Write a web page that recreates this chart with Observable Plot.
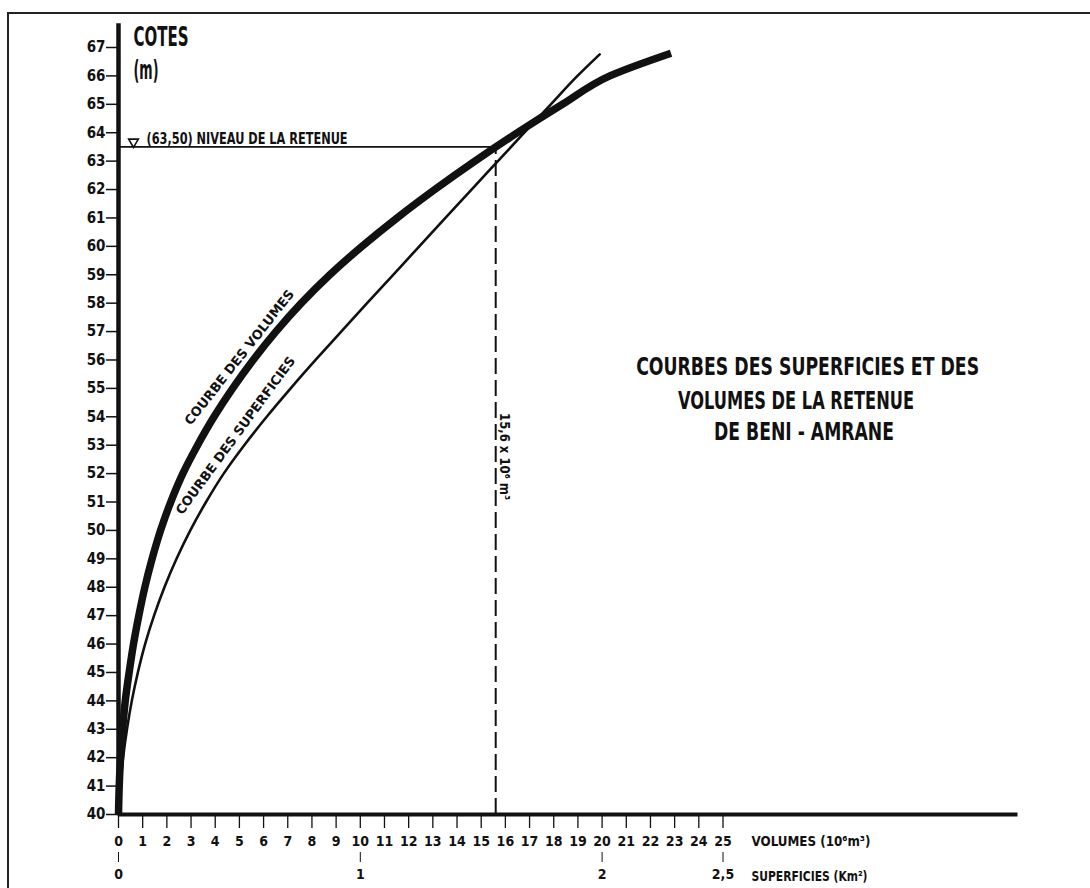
<!DOCTYPE html>
<html>
<head>
<meta charset="utf-8">
<script src="https://cdn.jsdelivr.net/npm/d3@7"></script>
<script src="https://cdn.jsdelivr.net/npm/@observablehq/plot@0.6"></script>
<style>
  html, body { margin: 0; padding: 0; background: #ffffff; }
  #wrap { position: relative; width: 1090px; height: 888px; overflow: hidden; }
  #border { position: absolute; left: 7px; top: 12px; right: -10px; bottom: -10px;
            border-top: 2px solid #222; border-left: 2px solid #222; }
  #chart { position: absolute; left: 0; top: 0; }
</style>
</head>
<body>
<div id="wrap"><div id="border"></div><div id="chart"></div></div>
<script>
// ---------- DATA ----------
// Courbe des volumes : cote (m) -> volume (10^6 m3)
const cotesVolumes = [40, 41, 42, 43, 44, 45, 46, 47, 48, 49, 50, 51, 52, 53, 54, 55, 56, 57, 58, 59, 60, 61, 62, 63, 64, 65, 66, 66.8];
const volumes      = [0, 0.03, 0.085, 0.17, 0.28, 0.44, 0.62, 0.84, 1.09, 1.39, 1.74, 2.16, 2.66, 3.27, 3.95, 4.72, 5.57, 6.51, 7.56, 8.74, 10.07, 11.52, 13.08, 14.74, 16.5, 18.36, 20.32, 22.85];

// Courbe des superficies : cote (m) -> superficie (km2)
const cotesSuperficies = [40, 41, 42, 43, 44, 45, 46, 47, 48, 49, 50, 51, 52, 53, 54, 55, 56, 57, 58, 59, 60, 61, 62, 63, 64, 65, 66, 66.76];
const superficies      = [0, 0.007, 0.019, 0.035, 0.055, 0.08, 0.11, 0.147, 0.19, 0.24, 0.297, 0.362, 0.435, 0.52, 0.613, 0.712, 0.815, 0.921, 1.028, 1.136, 1.244, 1.352, 1.46, 1.569, 1.678, 1.788, 1.898, 1.99];

// Axes
const coteTicks = d3.range(40, 68);                 // 40 ... 67
const volumeTicks = d3.range(0, 26);                // 0 ... 25 (10^6 m3)
const superficieTicks = [0, 1, 2, 2.5];             // km2
const superficieTickLabels = ["0", "1", "2", "2,5"];
const kmToVolumeUnits = 10;                          // 1 km2 is drawn at 10 volume units

// Niveau de la retenue
const niveauRetenue = 63.5;
const volumeRetenue = 15.6;

// Texts
const titleLines = ["COURBES DES SUPERFICIES ET DES", "VOLUMES DE LA RETENUE", "DE BENI - AMRANE"];
const yTitle = ["COTES", "(m)"];
const niveauLabel = "(63,50) NIVEAU DE LA RETENUE";
const volumeRetenueLabel = "15,6 x 10\u2076 m\u00B3";
const volumeCurveLabel = "COURBE DES VOLUMES";
const superficieCurveLabel = "COURBE DES SUPERFICIES";
const xLabelVolumes = "VOLUMES (10\u2076m\u00B3)";
const xLabelSuperficies = "SUPERFICIES (Km\u00B2)";

// ---------- TABLES ----------
const volumeData = cotesVolumes.map((c, i) => ({cote: c, v: volumes[i]}));
const superficieData = cotesSuperficies.map((c, i) => ({cote: c, s: superficies[i]}));
const supLabelMap = new Map(superficieTicks.map((s, i) => [s * kmToVolumeUnits, superficieTickLabels[i]]));

// ---------- LAYOUT (annotation anchors in data units) ----------
const NARROW = "'Liberation Sans Narrow','Arial Narrow','DejaVu Sans Condensed',sans-serif";
const HUMAN = "'DejaVu Sans','Open Sans',sans-serif";
const INK = "#111";
const yAxisTop = 67.84;
const xAxisEnd = 37.2;
const titleAnchors = [
  {x: 28.5, y: 55.77}, {x: 28.02, y: 54.57}, {x: 28.35, y: 53.45}
];
const fitWidths = new Map([
  [titleLines[0], 343], [titleLines[1], 236], [titleLines[2], 180],
  [yTitle[0], 55], [yTitle[1], 25],
  [niveauLabel, 201], [volumeRetenueLabel, 87],
  [volumeCurveLabel, 168], [superficieCurveLabel, 192],
  [xLabelVolumes, 119], [xLabelSuperficies, 116]
]);

const chart = Plot.plot({
  width: 1090,
  height: 888,
  marginLeft: 118,
  marginRight: 367.5,
  marginTop: 47,
  marginBottom: 74,
  x: {domain: [0, 25]},
  y: {domain: [40, 67]},
  style: {fontFamily: NARROW, color: INK, background: "transparent", overflow: "visible"},
  marks: [
    // Y axis (cotes)
    Plot.axisY(coteTicks, {anchor: "left", tickSize: 12, tickPadding: 1, fontSize: 15, fontWeight: "bold",
      strokeWidth: 1.5, label: null, tickFormat: d => String(d)}),
    // X axis row 1 (volumes)
    Plot.axisX(volumeTicks, {anchor: "bottom", tickSize: 14, tickPadding: 8, fontSize: 14, fontWeight: "bold",
      strokeWidth: 1.3, label: null, tickFormat: d => String(d)}),
    // X axis row 2 (superficies)
    Plot.axisX(superficieTicks.map(s => s * kmToVolumeUnits), {anchor: "bottom", dy: 38, tickSize: 10, tickPadding: 7,
      fontSize: 14, fontWeight: "bold", strokeWidth: 1, label: null, tickFormat: d => supLabelMap.get(d)}),

    // Axis lines
    Plot.ruleX([0], {y1: 40, y2: yAxisTop, strokeWidth: 4.5, stroke: INK}),
    Plot.ruleY([40], {x1: 0, x2: xAxisEnd, strokeWidth: 4, stroke: INK}),

    // Niveau de la retenue
    Plot.ruleY([niveauRetenue], {x1: 0, x2: volumeRetenue, strokeWidth: 1.8, stroke: INK}),
    Plot.ruleX([volumeRetenue], {y1: 40, y2: niveauRetenue, strokeWidth: 2, stroke: INK, strokeDasharray: "16,6"}),
    Plot.dot([niveauRetenue], {x: 0.62, y: d => d, symbol: "triangle", r: 3.6, rotate: 180, dy: -5,
      stroke: INK, fill: "none", strokeWidth: 1.6}),
    Plot.text([niveauLabel], {x: 1.16, y: niveauRetenue, dy: -8, text: d => d, textAnchor: "start",
      lineAnchor: "middle", fontSize: 15, fontWeight: "bold", fill: INK}),

    // Curves
    Plot.line(superficieData, {x: d => d.s * kmToVolumeUnits, y: "cote", curve: "monotone-y",
      stroke: INK, strokeWidth: 2.6}),
    Plot.line(volumeData, {x: "v", y: "cote", curve: "monotone-y", stroke: INK, strokeWidth: 7.5,
      strokeLinecap: "butt"}),

    // Curve labels
    Plot.text([volumeCurveLabel], {x: 5.17, y: 55.98, dx: -4, dy: -3, text: d => d, rotate: -51.7, fontSize: 13,
      fontWeight: "bold", fontFamily: HUMAN, fill: INK, lineAnchor: "middle"}),
    Plot.text([superficieCurveLabel], {x: 5.05, y: 53.23, dx: -5, dy: -3, text: d => d, rotate: -53.7, fontSize: 13,
      fontWeight: "bold", fontFamily: HUMAN, fill: INK, lineAnchor: "middle"}),
    Plot.text([volumeRetenueLabel], {x: volumeRetenue, y: 52.6, dx: 9, text: d => d, rotate: 90, fontSize: 14,
      fontWeight: "bold", fill: INK, lineAnchor: "middle"}),

    // Y title
    Plot.text([yTitle[0]], {x: 0.62, y: 67.33, text: d => d, textAnchor: "start", lineAnchor: "middle",
      fontSize: 26, fontWeight: "bold", fill: INK}),
    Plot.text([yTitle[1]], {x: 0.62, y: 66.19, text: d => d, textAnchor: "start", lineAnchor: "middle",
      fontSize: 26, fontWeight: "bold", fill: INK}),

    // X axis labels
    Plot.text([xLabelVolumes], {x: 26.18, y: 40, dy: 27, text: d => d, textAnchor: "start", lineAnchor: "middle",
      fontSize: 14, fontWeight: "bold", fill: INK}),
    Plot.text([xLabelSuperficies], {x: 26.18, y: 40, dy: 62, text: d => d, textAnchor: "start", lineAnchor: "middle",
      fontSize: 14, fontWeight: "bold", fill: INK}),

    // Title
    Plot.text(titleLines, {x: (d, i) => titleAnchors[i].x, y: (d, i) => titleAnchors[i].y, text: d => d,
      textAnchor: "middle", lineAnchor: "middle", fontSize: 25, fontWeight: "bold", fill: INK})
  ]
});

// fit a few texts to the widths measured on the reference
chart.querySelectorAll("text").forEach(t => {
  const w = fitWidths.get(t.textContent);
  if (w) { t.setAttribute("textLength", w); t.setAttribute("lengthAdjust", "spacingAndGlyphs"); }
});

document.getElementById("chart").appendChild(chart);
</script>
</body>
</html>
